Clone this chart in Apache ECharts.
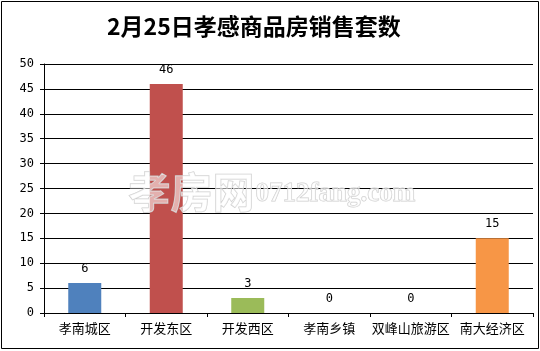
<!DOCTYPE html>
<html><head><meta charset="utf-8">
<script src="https://cdn.jsdelivr.net/npm/echarts@6/dist/echarts.min.js"></script>
<style>html,body{margin:0;padding:0;background:#fff}#c{width:540px;height:351px}</style>
</head><body><div id="c"></div>
<script>
var titleText = '2月25日孝感商品房销售套数';
var categories = ['孝南城区', '开发东区', '开发西区', '孝南乡镇', '双峰山旅游区', '南大经济区'];
var values = [6, 46, 3, 0, 0, 15];
var colors = ['#4F81BD', '#C0504D', '#9BBB59', '#8064A2', '#4BACC6', '#F79646'];
var yTicks = [0, 5, 10, 15, 20, 25, 30, 35, 40, 45, 50];

var chart = echarts.init(document.getElementById('c'), null, {renderer: 'canvas'});
chart.setOption({
  animation: false,
  backgroundColor: '#fff',
  title: {
    text: titleText, left: 102, top: 10,
    textStyle: {fontSize: 23, fontWeight: 'bold', color: '#000', fontFamily: '"Noto Sans CJK SC", serif'}
  },
  grid: {left: 44, right: 7, top: 64, bottom: 38},
  xAxis: {
    type: 'category', data: categories,
    axisLine: {lineStyle: {color: '#000', width: 1}},
    axisTick: {show: true, length: 4, lineStyle: {color: '#000'}},
    axisLabel: {color: '#000', fontSize: 13, margin: 9, interval: 0, fontFamily: '"Noto Sans CJK SC", sans-serif'}
  },
  yAxis: {
    type: 'value', min: yTicks[0], max: yTicks[yTicks.length - 1], interval: 5,
    axisLine: {show: true, lineStyle: {color: '#000', width: 1}},
    axisTick: {show: true, length: 4, lineStyle: {color: '#000'}},
    splitLine: {show: true, lineStyle: {color: '#000', width: 1}},
    axisLabel: {color: '#000', fontSize: 12, margin: 10, fontFamily: '"DejaVu Sans Mono", monospace'}
  },
  series: [{
    type: 'bar', barWidth: 33,
    data: values.map(function (v, i) { return {value: v, itemStyle: {color: colors[i]}}; }),
    label: {show: true, position: 'top', distance: 8, color: '#000', fontSize: 12, fontFamily: '"DejaVu Sans Mono", monospace'}
  }],
  graphic: [
    {type: 'rect', shape: {x: 1.5, y: 1.5, width: 537, height: 347}, style: {fill: null, stroke: '#000', lineWidth: 1}, z: 100, silent: true},
    {type: 'text', left: 128, top: 171, z: 100, silent: true,
      style: {text: '孝房网', fontSize: 42, fontWeight: 'bold', fontFamily: '"Noto Sans CJK SC", sans-serif', fill: 'rgba(255,255,255,0.55)', stroke: 'rgba(200,200,200,0.9)', lineWidth: 1}},
    {type: 'text', left: 255, top: 180, z: 100, silent: true,
      style: {text: '0712fang.com', fontSize: 27, fontWeight: 'bold', fontFamily: '"Liberation Serif", serif', fill: 'rgba(255,255,255,0.55)', stroke: 'rgba(200,200,200,0.9)', lineWidth: 1}}
  ]
});
</script></body></html>
